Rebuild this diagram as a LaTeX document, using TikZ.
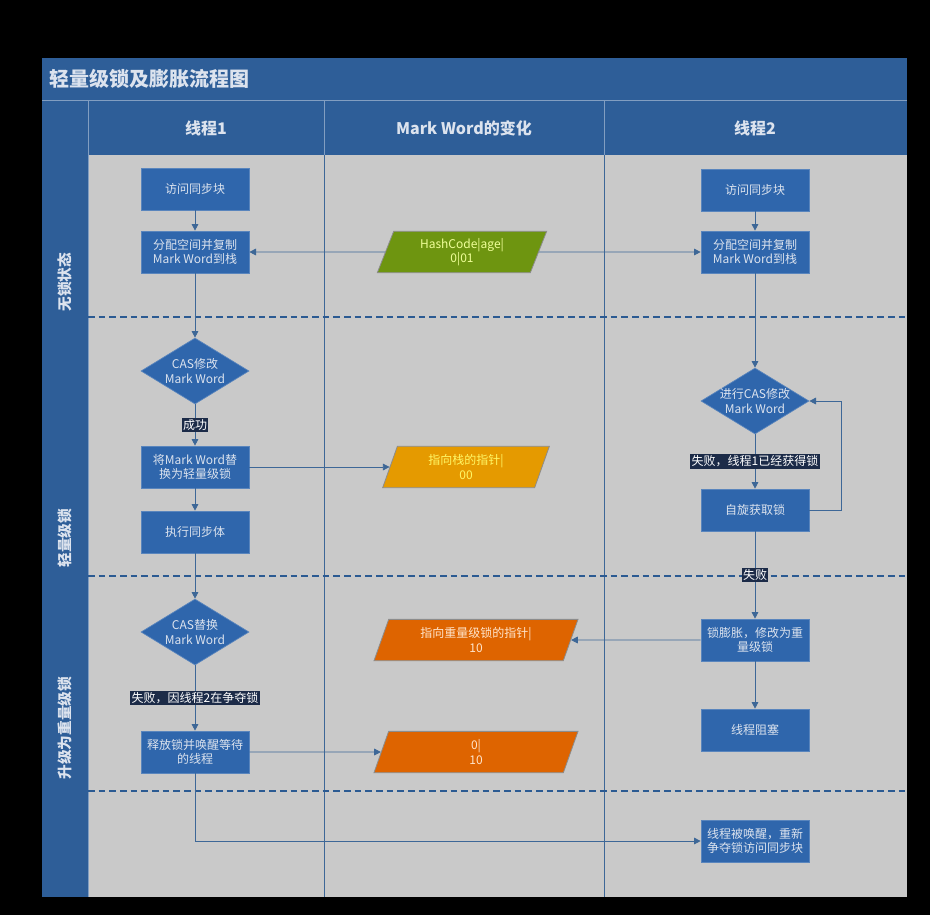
\documentclass[tikz,border=0pt]{standalone}
\usepackage{fontspec}
\setmainfont{Noto Sans CJK SC}
\usetikzlibrary{shapes.geometric,arrows.meta}
\definecolor{panelblue}{HTML}{2E5E98}
\definecolor{boxblue}{HTML}{2F66AC}
\definecolor{lanegray}{HTML}{C9C9C9}
\definecolor{lineblue}{HTML}{3D6797}
\definecolor{dashblue}{HTML}{2B5A92}
\definecolor{tagnavy}{HTML}{1C2B48}
\definecolor{hashgreen}{HTML}{6E9510}
\definecolor{ptrorange}{HTML}{E59A00}
\definecolor{heavyorange}{HTML}{DE6400}
\definecolor{softwhite}{HTML}{DCE3EE}

\begin{document}
\begin{tikzpicture}[x=0.75pt,y=-0.75pt,
  box/.style = {rectangle, fill=boxblue, draw=boxblue!80!white, line width=0.5pt,
    minimum width=81pt, minimum height=31.5pt, inner sep=1pt, align=center,
    text=softwhite, font=\fontsize{9}{11}\selectfont},
  decision/.style = {diamond, fill=boxblue, draw=boxblue!80!white, line width=0.5pt,
    minimum width=81pt, minimum height=49.5pt, aspect=1.64, inner sep=-3pt, align=center,
    text=softwhite, font=\fontsize{9}{11}\selectfont},
  datum/.style = {trapezium, trapezium left angle=62, trapezium right angle=118,
    trapezium stretches body, draw=black!45, line width=0.6pt,
    minimum height=31pt, inner sep=1pt, align=center, font=\fontsize{9}{11}\selectfont},
  flow/.style = {draw=lineblue, line width=0.6pt, -{Triangle[length=5pt,width=5pt]}},
  tag/.style = {fill=tagnavy, text=white, inner sep=1pt, font=\fontsize{9}{10}\selectfont},
  lane/.style = {rotate=90, text=softwhite, font=\bfseries\fontsize{11}{12}\selectfont},
  head/.style = {text=softwhite, font=\bfseries\fontsize{12}{14}\selectfont}]

  % background and swim lanes
  \fill[black] (0,0) rectangle (930,915);
  \fill[panelblue] (42,58) rectangle (907,897);
  \fill[lanegray] (88,155) rectangle (907,897);
  \draw[panelblue!60!white, line width=0.6pt] (42,100) -- (907,100)
    (88,100) -- (88,897) (324,100) -- (324,155) (604,100) -- (604,155);
  \draw[lineblue, line width=0.6pt] (324,155) -- (324,897) (604,155) -- (604,897);
  \foreach \y in {317,576,791}
    \draw[dashblue, line width=1.8pt, dash pattern=on 5pt off 3pt] (88,\y) -- (907,\y);

  \node[anchor=west, text=softwhite, font=\bfseries\fontsize{15}{17}\selectfont] (title) at (45,79) {轻量级锁及膨胀流程图};
  \node[head] (h1) at (206,128) {线程1};
  \node[head] (h2) at (464,128) {Mark Word的变化};
  \node[head] (h3) at (755,128) {线程2};
  \node[lane] (l1) at (65,282) {无锁状态};
  \node[lane] (l2) at (65,538) {轻量级锁};
  \node[lane] (l3) at (65,728) {升级为重量级锁};

  % thread 1
  \node[box] (visit1) at (195,189) {访问同步块};
  \node[box] (copy1) at (195,252) {分配空间并复制\\Mark Word到栈};
  \node[decision] (cas1) at (195,371) {CAS修改\\Mark Word};
  \node[box] (swap1) at (195,467) {将Mark Word替\\换为轻量级锁};
  \node[box] (body1) at (195,532) {执行同步体};
  \node[decision] (cas2) at (195,632) {CAS替换\\Mark Word};
  \node[box] (release) at (195,752) {释放锁并唤醒等待\\的线程};

  % mark word
  \node[datum, fill=hashgreen, text=green!15!yellow!40!white, minimum width=127pt] (hash) at (462,252) {HashCode|age|\\0|01};
  \node[datum, fill=ptrorange, text=yellow!60!white, minimum width=125pt] (stackptr) at (466,467) {指向栈的指针|\\00};
  \node[datum, fill=heavyorange, text=orange!20!white, minimum width=153pt] (heavyptr) at (476,640) {指向重量级锁的指针|\\10};
  \node[datum, fill=heavyorange, text=orange!20!white, minimum width=153pt] (unlocked) at (476,752) {0|\\10};

  % thread 2
  \node[box] (visit2) at (755,190) {访问同步块};
  \node[box] (copy2) at (755,252) {分配空间并复制\\Mark Word到栈};
  \node[decision] (cas3) at (755,401) {进行CAS修改\\Mark Word};
  \node[box] (spin) at (755,510) {自旋获取锁};
  \node[box] (inflate) at (755,640) {锁膨胀，修改为重\\量级锁};
  \node[box] (block) at (755,730) {线程阻塞};
  \node[box] (wake) at (755,841) {线程被唤醒，重新\\争夺锁访问同步块};

  \draw[flow] (visit1) -- (copy1);
  \draw[flow] (hash.west) -- (copy1.east);
  \draw[flow] (hash.east) -- (copy2.west);
  \draw[flow] (copy1) -- (cas1);
  \draw[flow] (cas1) -- node[tag] {成功} (swap1);
  \draw[flow] (swap1.east) -- (stackptr.west);
  \draw[flow] (swap1) -- (body1);
  \draw[flow] (body1) -- (cas2);
  \draw[flow] (cas2) -- node[tag] {失败，因线程2在争夺锁} (release);
  \draw[flow] (release.east) -- (unlocked.west);
  \draw[flow] (release.south) |- (wake.west);

  \draw[flow] (visit2) -- (copy2);
  \draw[flow] (copy2) -- (cas3);
  \draw[flow] (cas3) -- node[tag] {失败，线程1已经获得锁} (spin);
  \draw[flow] (spin.east) -- ++(32,0) |- (cas3.east);
  \draw[flow] (spin) -- node[tag] {失败} (inflate);
  \draw[flow] (inflate.west) -- (heavyptr.east);
  \draw[flow] (inflate) -- (block);
\end{tikzpicture}
\end{document}
